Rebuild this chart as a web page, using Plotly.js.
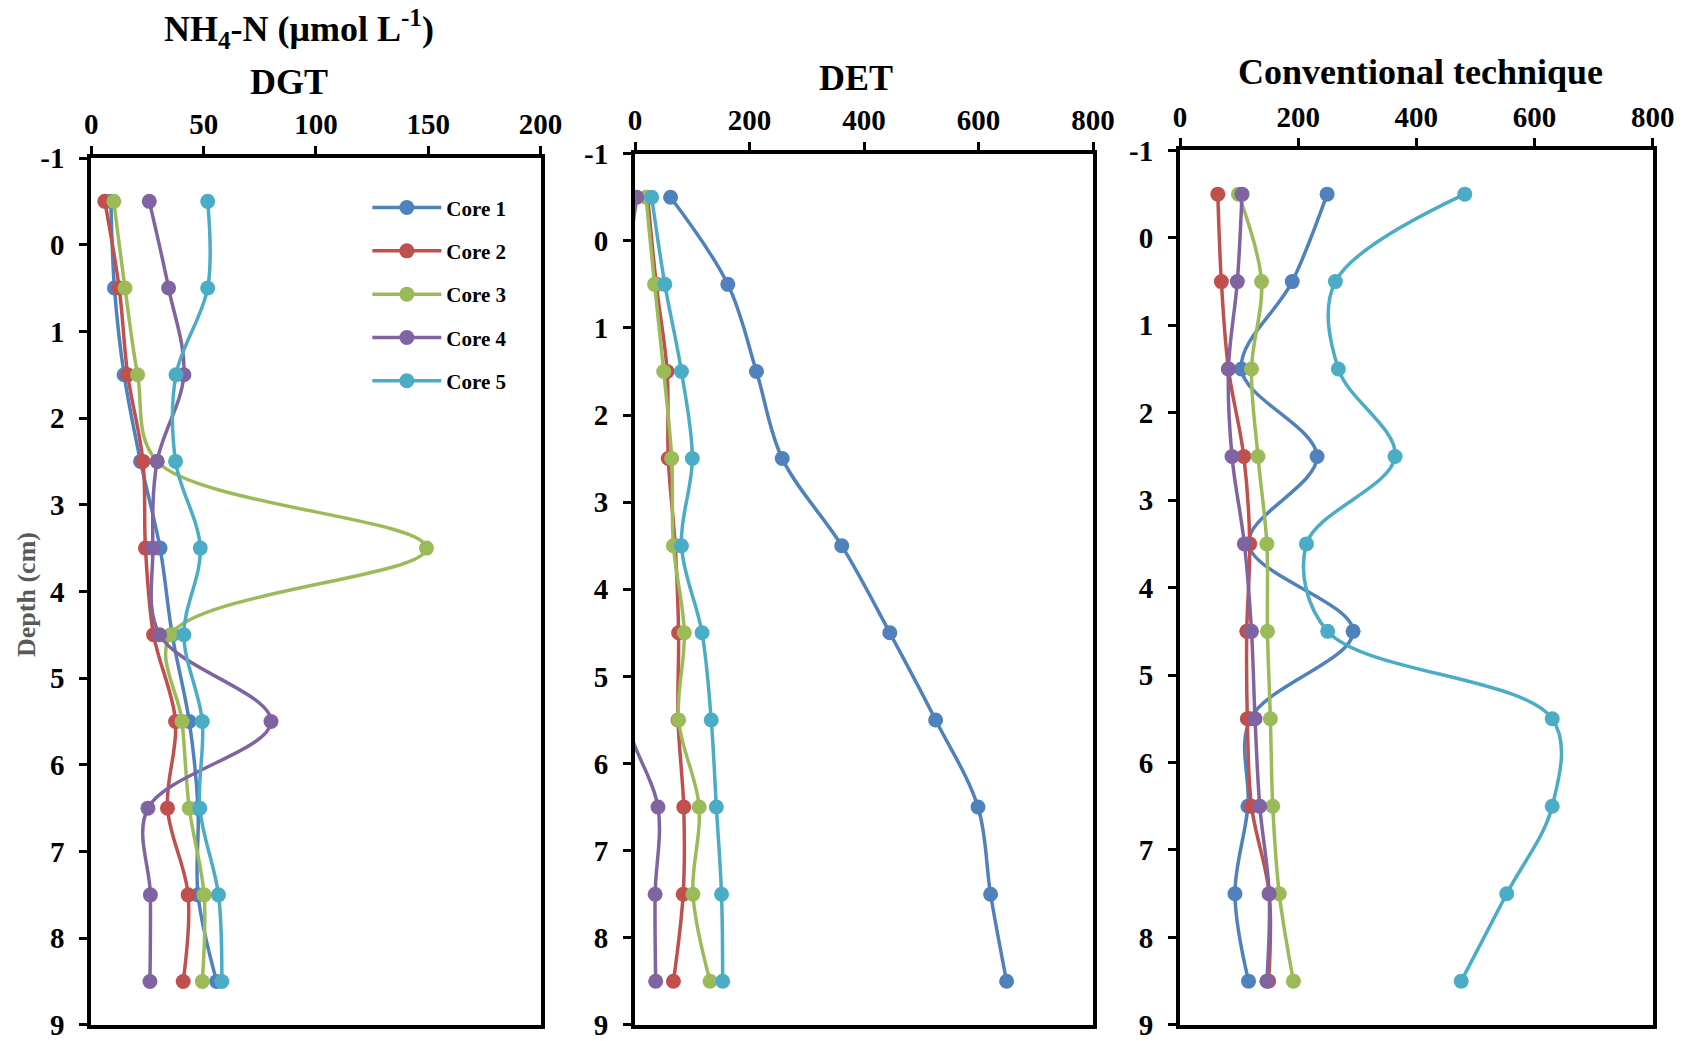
<!DOCTYPE html>
<html>
<head>
<meta charset="utf-8">
<script src="https://cdn.plot.ly/plotly-3.0.1.min.js"></script>
<style>html,body{margin:0;padding:0;background:#fff;}#chart{width:1685px;height:1041px;}</style>
</head>
<body>
<div id="chart"></div>
<script>
// Depths (cm)
const depth = [-0.5, 0.5, 1.5, 2.5, 3.5, 4.5, 5.5, 6.5, 7.5, 8.5];
const coreNames = ['Core 1', 'Core 2', 'Core 3', 'Core 4', 'Core 5'];

// DGT NH4-N (µmol/L)
const dgtCore1 = [8.7, 10.3, 14.6, 21.9, 30.6, 36.0, 43.6, 47.5, 47.5, 55.8];
const dgtCore2 = [6.0, 12.4, 16.2, 23.0, 24.1, 27.7, 37.5, 33.9, 43.1, 40.9];
const dgtCore3 = [10.0, 15.0, 20.6, 29.3, 149.2, 35.3, 40.4, 43.6, 50.2, 49.4];
const dgtCore4 = [25.8, 34.4, 41.2, 29.3, 27.4, 30.4, 80.0, 25.2, 26.3, 26.1];
const dgtCore5 = [51.8, 51.8, 37.7, 37.5, 48.5, 41.2, 49.4, 48.3, 56.6, 58.1];

// DET NH4-N (µmol/L)
const detCore1 = [62, 162, 212, 257, 361, 445, 525, 599, 621, 649];
const detCore2 = [22, 37, 56, 58, 70, 76, 75, 85, 84, 67];
const detCore3 = [19, 34, 50, 64, 67, 86, 76, 112, 101, 131];
const detCore4 = [3, -15, -15, -15, -15, -15, -15, 40, 35, 36];
const detCore5 = [29, 52, 81, 100, 81, 117, 133, 142, 151, 153];

// Conventional technique NH4-N (µmol/L)
const convCore1 = [249, 190, 104, 232, 116, 293, 119, 115, 93, 116];
const convCore2 = [64, 70, 82, 108, 118, 113, 114, 121, 151, 150];
const convCore3 = [99, 138, 121, 132, 147, 148, 153, 157, 168, 192];
const convCore4 = [105, 97, 82, 88, 109, 121, 127, 135, 151, 147];
const convCore5 = [482, 263, 268, 364, 214, 250, 630, 630, 553, 476];

// Tick labels
const depthTicks = [-1, 0, 1, 2, 3, 4, 5, 6, 7, 8, 9];
const depthTickText = ['-1', '0', '1', '2', '3', '4', '5', '6', '7', '8', '9'];
const dgtTicks = [0, 50, 100, 150, 200];
const detTicks = [0, 200, 400, 600, 800];
const convTicks = [0, 200, 400, 600, 800];

const colors = ['#4F81BD', '#C0504D', '#9BBB59', '#8064A2', '#4BACC6'];
const serif = 'Liberation Serif, Times New Roman, serif';

const panels = [
  {series: [dgtCore1, dgtCore2, dgtCore3, dgtCore4, dgtCore5], xa: 'x', ya: 'y', legend: true},
  {series: [detCore1, detCore2, detCore3, detCore4, detCore5], xa: 'x2', ya: 'y2', legend: false},
  {series: [convCore1, convCore2, convCore3, convCore4, convCore5], xa: 'x3', ya: 'y3', legend: false}
];

const traces = [];
panels.forEach(p => {
  p.series.forEach((vals, i) => {
    traces.push({
      type: 'scatter', mode: 'lines+markers',
      x: vals, y: depth, xaxis: p.xa, yaxis: p.ya,
      name: coreNames[i], legendgroup: coreNames[i], showlegend: p.legend,
      line: {color: colors[i], width: 3.5, shape: 'spline', smoothing: 1},
      marker: {color: colors[i], size: 15},
      cliponaxis: true
    });
  });
});

const tickFont = {family: serif, size: 29, color: '#000', weight: 'bold'};
function xAxis(domain, anchor, range, ticks) {
  return {domain: domain, anchor: anchor, side: 'top', range: range, tickmode: 'array', tickvals: ticks,
    ticks: 'outside', ticklen: 8, tickwidth: 3, tickcolor: '#000', showline: true, linewidth: 4, linecolor: '#000',
    mirror: true, showgrid: false, zeroline: false, tickfont: tickFont, ticklabelstandoff: 0,
    ticklabeloverflow: 'allow', fixedrange: true};
}
function yAxis(domain, anchor) {
  return {domain: domain, anchor: anchor, range: [9, -1], tickmode: 'array', tickvals: depthTicks, ticktext: depthTickText,
    ticks: 'outside', ticklen: 8, tickwidth: 3, tickcolor: '#000', showline: true, linewidth: 4, linecolor: '#000',
    mirror: true, showgrid: false, zeroline: false, tickfont: tickFont, ticklabelstandoff: 9,
    ticklabeloverflow: 'allow', fixedrange: true};
}

const titleFont = {family: serif, size: 36, color: '#000', weight: 'bold'};
const layout = {
  width: 1685, height: 1041,
  margin: {l: 0, r: 0, t: 0, b: 0},
  paper_bgcolor: '#fff', plot_bgcolor: '#fff',
  showlegend: true,
  legend: {x: 0.218, y: 0.82, xanchor: 'left', yanchor: 'top', bgcolor: 'rgba(0,0,0,0)',
    font: {family: serif, size: 21, color: '#000', weight: 'bold'}, tracegroupgap: 13, itemwidth: 69},
  xaxis: xAxis([0.0542, 0.3208], 'y', [0, 200], dgtTicks),
  yaxis: yAxis([0.0155, 0.8482], 'x'),
  xaxis2: xAxis([0.3769, 0.6487], 'y2', [0, 800], detTicks),
  yaxis2: yAxis([0.0155, 0.8524], 'x2'),
  xaxis3: xAxis([0.7003, 0.9808], 'y3', [0, 800], convTicks),
  yaxis3: yAxis([0.0155, 0.8555], 'x3'),
  annotations: [
    {text: 'NH<sub>4</sub>-N (μmol L<sup>-1</sup>)', x: 0.1774, y: 0.972, xref: 'paper', yref: 'paper', xanchor: 'center', yanchor: 'middle', showarrow: false, font: titleFont},
    {text: 'DGT', x: 0.1715, y: 0.9212, xref: 'paper', yref: 'paper', xanchor: 'center', yanchor: 'middle', showarrow: false, font: titleFont},
    {text: 'DET', x: 0.508, y: 0.925, xref: 'paper', yref: 'paper', xanchor: 'center', yanchor: 'middle', showarrow: false, font: titleFont},
    {text: 'Conventional technique', x: 0.8433, y: 0.9308, xref: 'paper', yref: 'paper', xanchor: 'center', yanchor: 'middle', showarrow: false, font: titleFont},
    {text: 'Depth (cm)', x: 0.016, y: 0.4294, xref: 'paper', yref: 'paper', xanchor: 'center', yanchor: 'middle', textangle: -90, showarrow: false,
      font: {family: serif, size: 26, color: '#595959', weight: 'bold'}}
  ]
};

Plotly.newPlot('chart', traces, layout, {displayModeBar: false, staticPlot: true});
</script>
</body>
</html>
